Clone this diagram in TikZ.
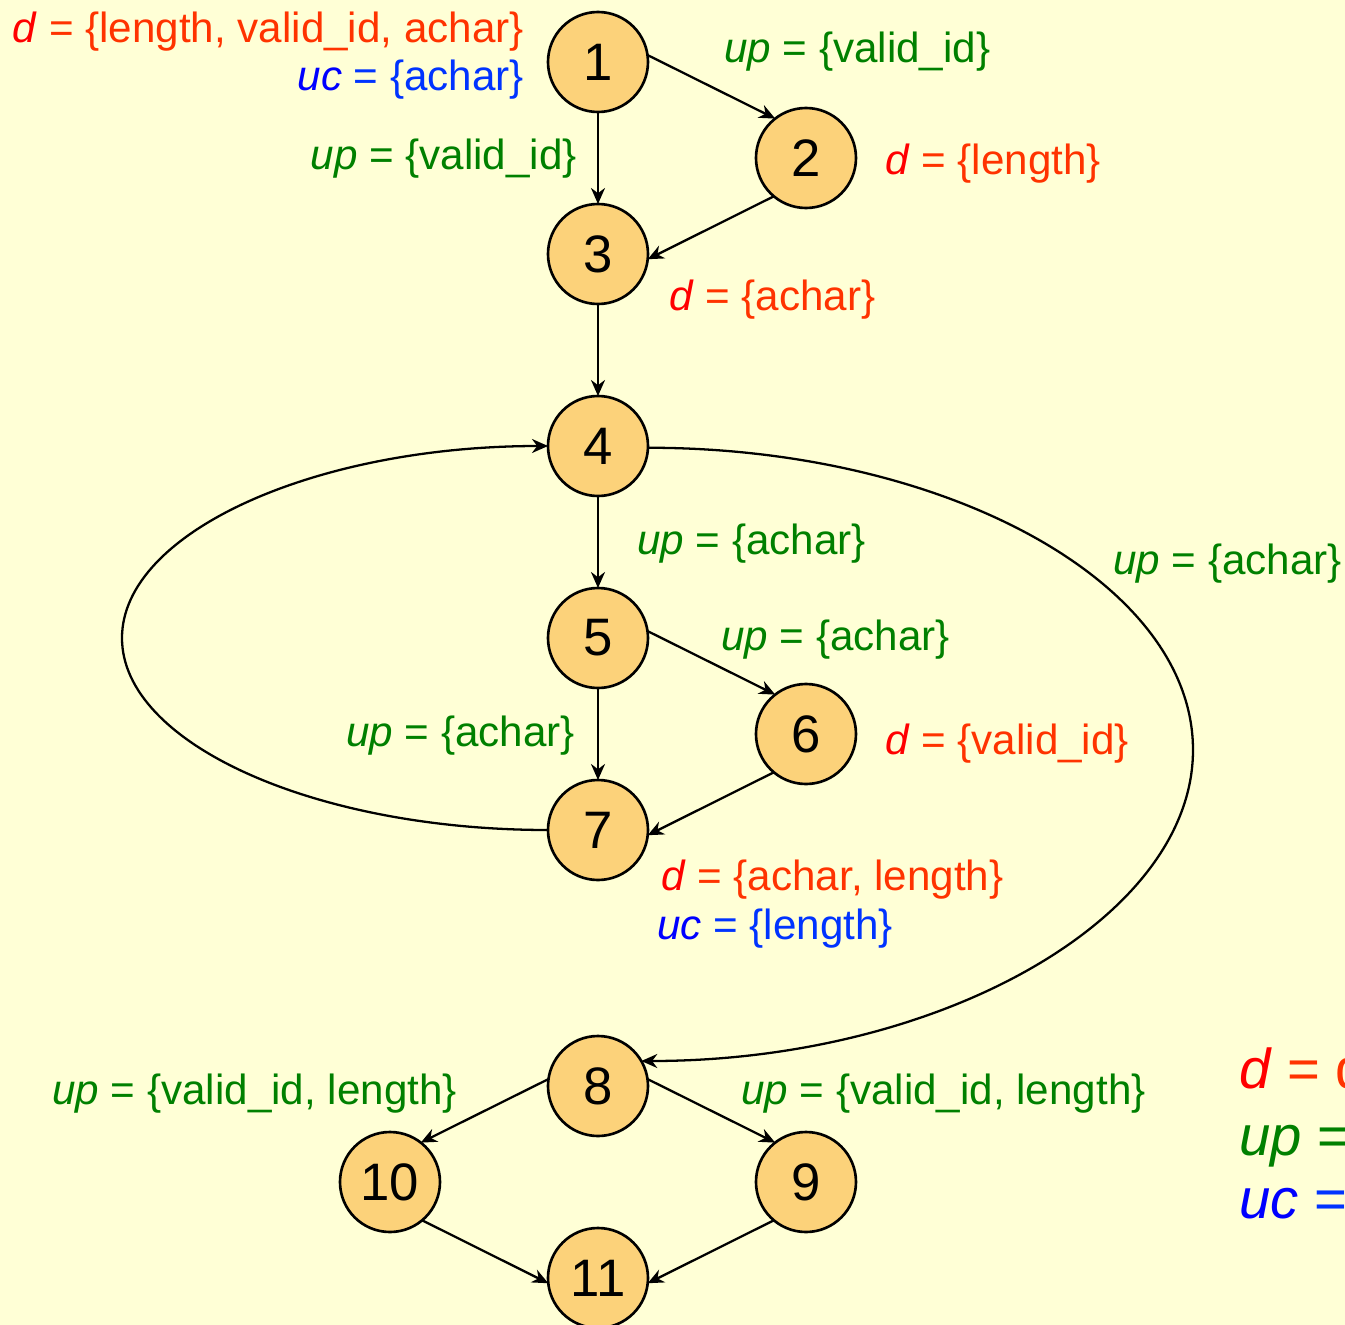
\documentclass[tikz,border=0pt]{standalone}
\usepackage{fontspec}
\setmainfont{Liberation Sans}
\usetikzlibrary{arrows.meta,positioning}
\definecolor{bgyellow}{RGB}{255,255,214}
\definecolor{nodefill}{RGB}{252,210,122}
\definecolor{defred}{RGB}{255,0,0}
\definecolor{deforange}{RGB}{255,51,0}
\definecolor{usegreen}{RGB}{0,128,0}
\definecolor{useblue}{RGB}{0,0,255}
\definecolor{usebluelt}{RGB}{0,51,255}
\newcommand{\dset}[1]{\textcolor{defred}{\textit{d}}\ \textcolor{deforange}{= \{#1\}}}
\newcommand{\upset}[1]{\textcolor{usegreen}{\textit{up} = \{#1\}}}
\newcommand{\ucset}[1]{\textcolor{useblue}{\textit{uc}}\ \textcolor{usebluelt}{= \{#1\}}}

\begin{document}
\begin{tikzpicture}[
			>={Stealth[length=3.2mm,width=2.8mm]},
			line width=1.3pt,
			node distance=1.84cm,
			vertex/.style={
				circle,
				draw,
				line width=1.5pt,
				fill=nodefill,
				minimum size=2cm,
				inner sep=0pt,
				outer sep=0pt,
				font=\fontsize{30}{32}\selectfont
			},
			lbl/.style={
				inner sep=0pt,
				font=\fontsize{24}{28}\selectfont
			},
			legend/.style={
				inner sep=0pt,
				font=\fontsize{32}{36}\selectfont
			}
			]
			
			\fill[bgyellow] (-11.96,1.24) rectangle (14.94,-25.26);
			\useasboundingbox (-11.96,1.24) rectangle (14.94,-25.26);
			\clip (-11.96,1.24) rectangle (14.94,-25.26);
			
			\node[vertex] (n1) at (0,0) {1};
			\node[vertex,below=of n1] (n3) {3};
			\node[vertex,right=2.16cm of n1,yshift=-1.92cm] (n2) {2};
			\node[vertex,below=of n3] (n4) {4};
			\node[vertex,below=of n4] (n5) {5};
			\node[vertex,right=2.16cm of n5,yshift=-1.92cm] (n6) {6};
			\node[vertex,below=of n5] (n7) {7};
			\node[vertex,below=3.12cm of n7] (n8) {8};
			\node[vertex,right=2.16cm of n8,yshift=-1.92cm] (n9) {9};
			\node[vertex,left=2.16cm of n8,yshift=-1.92cm] (n10) {10};
			\node[vertex,below=of n8] (n11) {11};
			
			\coordinate[left=8.52cm of n5] (lft);
			\coordinate[right=6.74cm of n6,yshift=-0.32cm] (rgt);
			
			\draw[->] (n1) -- (n3);
			\draw[->] (n1.8) -- (n2.128);
			\draw[->] (n2.230) -- (n3.-6);
			\draw[->] (n3) -- (n4);
			\draw[->] (n4) -- (n5);
			\draw[->] (n5.8) -- (n6.128);
			\draw[->] (n6.230) -- (n7.-6);
			\draw[->] (n5) -- (n7);
			\draw[->] (n8.8) -- (n9.128);
			\draw[->] (n8.172) -- (n10.52);
			\draw[->] (n9.230) -- (n11.-6);
			\draw[->] (n10.-50) -- (n11.186);
			
			\draw[->] (n7.west) .. controls +(-4.67,0) and +(0,-2.11) .. (lft)
				.. controls +(0,2.11) and +(-4.67,0) .. (n4.west);
			\draw[->] (n4.-2) .. controls +(5.94,0) and +(0,3.36) .. (rgt)
				.. controls +(0,-3.36) and +(5.99,0) .. (n8.30);
			
			\node[lbl,anchor=base east,xshift=-1.46cm,yshift=0.39cm] (l1d) at (n1) {\dset{length, valid\_id, achar}};
			\node[lbl,anchor=base east,xshift=-1.46cm,yshift=-0.57cm] (l1uc) at (n1) {\ucset{achar}};
			\node[lbl,anchor=base west,xshift=2.5cm,yshift=-0.01cm] (l12) at (n1) {\upset{valid\_id}};
			\node[lbl,anchor=base east,xshift=-0.4cm,yshift=1.69cm] (l13) at (n3) {\upset{valid\_id}};
			\node[lbl,anchor=base west,xshift=1.56cm,yshift=-0.33cm] (l2d) at (n2) {\dset{length}};
			\node[lbl,anchor=base west,xshift=1.4cm,yshift=-1.13cm] (l3d) at (n3) {\dset{achar}};
			\node[lbl,anchor=base west,xshift=0.76cm,yshift=-2.17cm] (l45) at (n4) {\upset{achar}};
			\node[lbl,anchor=base west,xshift=10.28cm,yshift=-2.57cm] (l48) at (n4) {\upset{achar}};
			\node[lbl,anchor=base west,xshift=2.44cm,yshift=-0.25cm] (l56) at (n5) {\upset{achar}};
			\node[lbl,anchor=base east,xshift=-0.44cm,yshift=-2.17cm] (l57) at (n5) {\upset{achar}};
			\node[lbl,anchor=base west,xshift=1.56cm,yshift=-0.41cm] (l6d) at (n6) {\dset{valid\_id}};
			\node[lbl,anchor=base west,xshift=1.24cm,yshift=-1.21cm] (l7d) at (n7) {\dset{achar, length}};
			\node[lbl,anchor=base west,xshift=1.16cm,yshift=-2.19cm] (l7uc) at (n7) {\ucset{length}};
			\node[lbl,anchor=base east,xshift=-2.8cm,yshift=-0.37cm] (l810) at (n8) {\upset{valid\_id, length}};
			\node[lbl,anchor=base west,xshift=2.84cm,yshift=-0.37cm] (l89) at (n8) {\upset{valid\_id, length}};
			
			\node[legend,anchor=base west,xshift=12.8cm,yshift=-0.04cm] (keyd) at (n8) {\textcolor{defred}{\textit{d}}\ \textcolor{deforange}{= d}};
			\node[legend,anchor=base west,xshift=12.8cm,yshift=-1.38cm] (keyup) at (n8) {\textcolor{usegreen}{\textit{up} =}};
			\node[legend,anchor=base west,xshift=12.8cm,yshift=-2.64cm] (keyuc) at (n8) {\textcolor{useblue}{\textit{uc}}\ \textcolor{usebluelt}{=}};
			
		\end{tikzpicture}
\end{document}
